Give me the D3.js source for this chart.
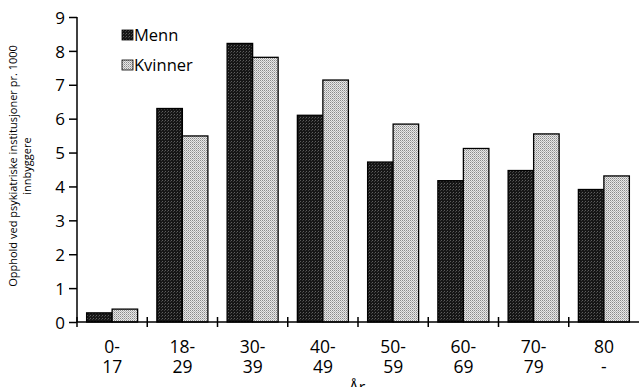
<!DOCTYPE html>
<html><head><meta charset="utf-8">
<script src="https://cdn.jsdelivr.net/npm/d3@7/dist/d3.min.js"></script>
<style>
html,body{margin:0;padding:0;background:#fff;}
svg{display:block;font-family:"Open Sans",sans-serif;}
</style></head>
<body><svg id="c" width="639" height="387"></svg>
<script>
const categories = ["0-17","18-29","30-39","40-49","50-59","60-69","70-79","80-"];
const catLines = [["0-","17"],["18-","29"],["30-","39"],["40-","49"],["50-","59"],["60-","69"],["70-","79"],["80","-"]];
const series = ["Menn","Kvinner"];
const menn = [0.27, 6.30, 8.22, 6.10, 4.72, 4.17, 4.47, 3.91];
const kvinner = [0.38, 5.49, 7.81, 7.14, 5.84, 5.12, 5.55, 4.31];
const yTicks = [0,1,2,3,4,5,6,7,8,9];
const yTitle = ["Opphold ved psykiatriske institusjoner pr. 1000","innbyggere"];
const xTitle = "År";

const svg = d3.select("#c");
const defs = svg.append("defs");
// dark stipple
const pm = defs.append("pattern").attr("id","pMenn").attr("patternUnits","userSpaceOnUse").attr("width",3).attr("height",3);
pm.append("rect").attr("width",3).attr("height",3).attr("fill","#161616");
pm.append("rect").attr("x",0).attr("y",0).attr("width",1).attr("height",1).attr("fill","#5e5e5e");
pm.append("rect").attr("x",2).attr("y",1).attr("width",1).attr("height",1).attr("fill","#404040");
// light stipple
const pk = defs.append("pattern").attr("id","pKvinner").attr("patternUnits","userSpaceOnUse").attr("width",2).attr("height",2);
pk.append("rect").attr("width",2).attr("height",2).attr("fill","#e8e8e8");
pk.append("rect").attr("x",0).attr("y",0).attr("width",1).attr("height",1).attr("fill","#8a8a8a");
pk.append("rect").attr("x",1).attr("y",1).attr("width",1).attr("height",1).attr("fill","#b4b4b4");
const fills = {Menn:"url(#pMenn)", Kvinner:"url(#pKvinner)"};

const x0 = d3.scaleBand().domain(categories).range([77,639]).paddingInner(0).paddingOuter(0);
const x1 = d3.scaleBand().domain(series).range([0,x0.bandwidth()]).paddingInner(0).paddingOuter(0.377);
const y = d3.scaleLinear().domain([0,9]).range([322,17]);

const data = categories.map((c,i)=>({c, Menn:menn[i], Kvinner:kvinner[i]}));

// bars
const g = svg.append("g");
data.forEach(d=>{
  series.forEach(s=>{
    g.append("rect")
      .attr("x", x0(d.c)+x1(s))
      .attr("y", y(d[s]))
      .attr("width", x1.bandwidth())
      .attr("height", y(0)-y(d[s]))
      .attr("fill", fills[s])
      .attr("stroke","#000").attr("stroke-width",1.3);
  });
});

// y axis
const ya = svg.append("g").attr("transform","translate(77,0)")
  .call(d3.axisLeft(y).tickValues(yTicks).tickSize(8).tickPadding(4).tickFormat(d3.format("d")));
ya.select(".domain").attr("stroke","#000").attr("stroke-width",1.5).attr("d","M0,17V322");
ya.selectAll(".tick line").attr("stroke","#000").attr("stroke-width",1.5);
ya.selectAll(".tick text").attr("font-size",17).attr("font-family","Open Sans").attr("fill","#000").attr("dy","0.36em");

// x axis
const xa = svg.append("g").attr("transform","translate(0,322)")
  .call(d3.axisBottom(x0).tickSize(0).tickFormat(""));
xa.select(".domain").attr("stroke","#000").attr("stroke-width",1.5).attr("d","M77,0H639");
// boundary ticks
const bounds = categories.map(c=>x0(c));
xa.selectAll(".btick").data(bounds).join("line")
  .attr("x1",d=>d).attr("x2",d=>d).attr("y1",-5).attr("y2",5)
  .attr("stroke","#000").attr("stroke-width",1.5);
// labels
xa.selectAll(".tick").each(function(d,i){
  const t = d3.select(this).select("text");
  t.text(null).attr("y",0).attr("dy",null).attr("font-size",17.5).attr("font-family","Open Sans").attr("fill","#000");
  catLines[i].forEach((ln,k)=>{
    t.append("tspan").attr("x",0).attr("y",31+k*20).text(ln);
  });
});

// x title
svg.append("text").attr("x",357).attr("y",393).attr("text-anchor","middle")
  .attr("font-size",16).text(xTitle);

// y title
const yt = svg.append("text").attr("transform","translate(0,166) rotate(-90)")
  .attr("text-anchor","middle").attr("font-size",11).attr("fill","#000");
yt.append("tspan").attr("x",0).attr("y",17).text(yTitle[0]);
yt.append("tspan").attr("x",0).attr("y",31).text(yTitle[1]);

// legend
const leg = svg.append("g");
series.forEach((s,i)=>{
  const by = 41 + i*30;
  leg.append("rect").attr("x",122).attr("y",by-11).attr("width",11).attr("height",10)
    .attr("fill",fills[s]).attr("stroke","#000").attr("stroke-width",0.8);
  leg.append("text").attr("x",134).attr("y",by).attr("font-size",16.5).attr("fill","#000").text(s);
});
</script></body></html>
